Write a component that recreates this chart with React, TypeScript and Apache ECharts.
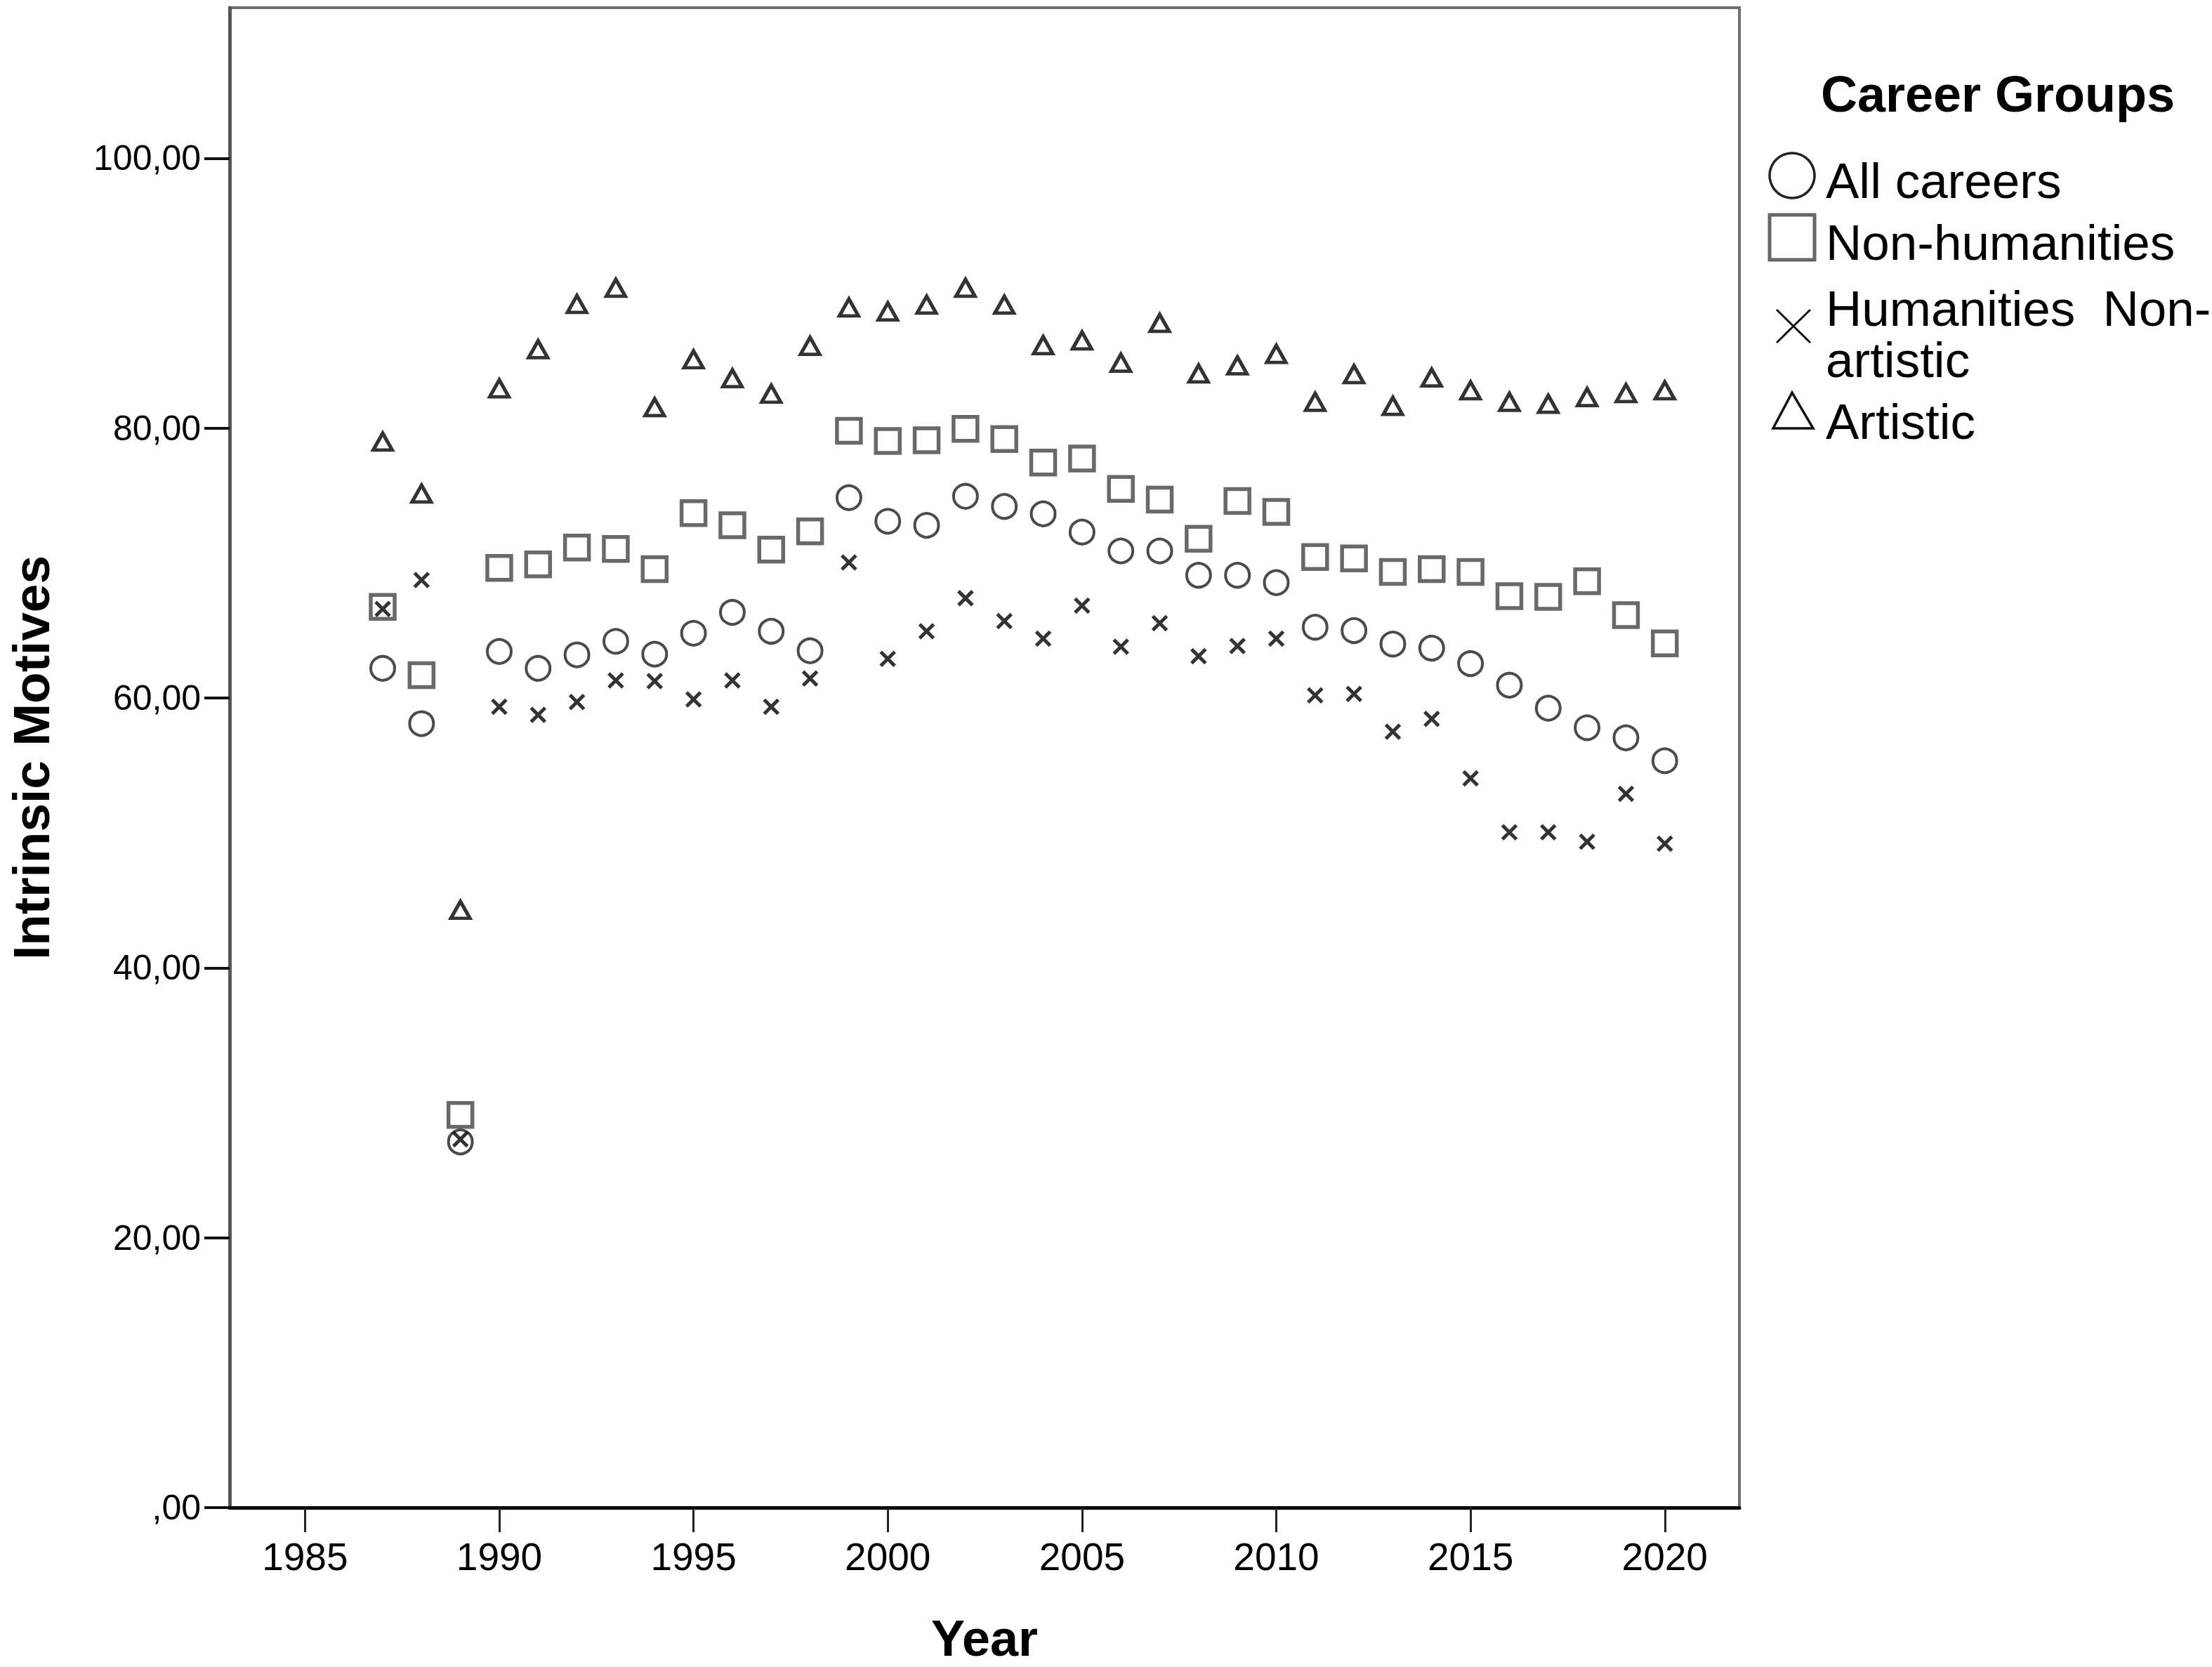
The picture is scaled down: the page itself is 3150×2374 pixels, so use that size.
import React, { useEffect, useRef } from "react";
import * as echarts from "echarts";

const years = [
  1987, 1988, 1989, 1990, 1991, 1992, 1993, 1994, 1995, 1996, 1997, 1998, 1999, 2000, 2001, 2002, 2003,
  2004, 2005, 2006, 2007, 2008, 2009, 2010, 2011, 2012, 2013, 2014, 2015, 2016, 2017, 2018, 2019, 2020,
];

const allCareers = [
  62.2, 58.1, 27.1, 63.45, 62.2, 63.2, 64.2, 63.25, 64.8, 66.35, 64.95, 63.5, 74.85, 73.1, 72.8, 74.95, 74.2,
  73.65, 72.3, 70.9, 70.9, 69.1, 69.1, 68.55, 65.25, 65.0, 64.0, 63.7, 62.55, 60.95, 59.25, 57.8, 57.05, 55.35,
];

const nonHumanities = [
  66.75, 61.7, 29.1, 69.65, 69.9, 71.15, 71.05, 69.55, 73.7, 72.8, 71.0, 72.35, 79.8, 79.05, 79.1, 79.95, 79.2,
  77.45, 77.75, 75.5, 74.7, 71.8, 74.6, 73.8, 70.45, 70.35, 69.35, 69.55, 69.35, 67.55, 67.5, 68.65, 66.15, 64.05,
];

const humanitiesNonArtistic = [
  66.6, 68.75, 27.3, 59.35, 58.75, 59.7, 61.3, 61.25, 59.9, 61.3, 59.35, 61.45, 70.05, 62.9, 64.95, 67.4, 65.7,
  64.4, 66.85, 63.8, 65.55, 63.1, 63.85, 64.4, 60.2, 60.3, 57.5, 58.45, 54.05, 50.05, 50.05, 49.35, 52.9, 49.2,
];

const artistic = [
  79.0, 75.15, 44.3, 82.95, 85.85, 89.2, 90.4, 81.55, 85.1, 83.7, 82.55, 86.1, 88.95, 88.65, 89.15, 90.4, 89.15,
  86.15, 86.5, 84.85, 87.8, 84.05, 84.65, 85.5, 81.95, 84.0, 81.65, 83.75, 82.8, 81.95, 81.8, 82.3, 82.6, 82.8,
];

const xTicks = [1985, 1990, 1995, 2000, 2005, 2010, 2015, 2020];
const yTicks = [0, 20, 40, 60, 80, 100];

const seriesNames = ["All careers", "Non-humanities", "Humanities  Non-artistic", "Artistic"];
const legendTitle = "Career Groups";

const FONT = "'Liberation Sans', Arial, sans-serif";

function pairs(vals: number[]) {
  return years.map((y, i) => [y, vals[i]]);
}

export default function App() {
  const ref = useRef<HTMLDivElement>(null);

  useEffect(() => {
    if (!ref.current) return;
    const chart = echarts.init(ref.current, null, { renderer: "svg" });

    const gridLeft = 316;
    const gridTop = 11;
    const gridW = 2161;
    const gridH = 2146;

    const option: any = {
      animation: false,
      backgroundColor: "#ffffff",
      grid: {
        left: gridLeft,
        top: gridTop,
        width: gridW,
        height: gridH,
        show: true,
        borderColor: "#707070",
        borderWidth: 4,
        backgroundColor: "#ffffff",
      },
      xAxis: {
        type: "value",
        min: 1983.06,
        max: 2021.92,
        name: "Year",
        nameLocation: "middle",
        nameGap: 150,
        nameTextStyle: { fontFamily: FONT, fontWeight: "bold", fontSize: 72, color: "#000" },
        axisLine: { show: true, onZero: false, lineStyle: { color: "#000", width: 5 } },
        axisTick: { show: true, length: 35, lineStyle: { color: "#222", width: 3 }, customValues: xTicks },
        axisLabel: {
          show: true,
          customValues: xTicks,
          margin: 42,
          fontFamily: FONT,
          fontSize: 55,
          color: "#000",
          formatter: (v: number) => String(Math.round(v)),
        },
        splitLine: { show: false },
      },
      yAxis: {
        type: "value",
        min: 0,
        max: 111.16,
        name: "Intrinsic Motives",
        nameLocation: "middle",
        nameRotate: 90,
        nameGap: 246,
        nameTextStyle: { fontFamily: FONT, fontWeight: "bold", fontSize: 73, color: "#000" },
        axisLine: { show: true, onZero: false, lineStyle: { color: "#555", width: 5 } },
        axisTick: { show: true, length: 36, lineStyle: { color: "#111", width: 4 }, customValues: yTicks },
        axisLabel: {
          show: true,
          customValues: yTicks,
          margin: 41,
          fontFamily: FONT,
          fontSize: 50,
          color: "#000",
          padding: [20, 0, 0, 0],
          formatter: (v: number) => (v === 0 ? ",00" : `${Math.round(v)},00`),
        },
        splitLine: { show: false },
      },
      series: [
        {
          name: seriesNames[0],
          type: "scatter",
          data: pairs(allCareers),
          symbol: "circle",
          symbolSize: 34,
          itemStyle: { color: "rgba(255,255,255,0)", borderColor: "#1e1e1e", borderWidth: 4 },
          z: 2,
        },
        {
          name: seriesNames[1],
          type: "scatter",
          data: pairs(nonHumanities),
          symbol: "rect",
          symbolSize: 34,
          itemStyle: { color: "rgba(255,255,255,0)", borderColor: "#444", borderWidth: 5.5 },
          z: 3,
        },
        {
          name: seriesNames[2],
          type: "scatter",
          data: pairs(humanitiesNonArtistic),
          symbol: "path://M0,0L10,10M10,0L0,10",
          symbolSize: 20,
          itemStyle: { color: "rgba(255,255,255,0)", borderColor: "#000", borderWidth: 5 },
          z: 4,
        },
        {
          name: seriesNames[3],
          type: "scatter",
          data: pairs(artistic),
          symbol: "triangle",
          symbolSize: [27, 24],
          itemStyle: { color: "rgba(255,255,255,0)", borderColor: "#000", borderWidth: 5 },
          z: 5,
        },
      ],
      graphic: [
        {
          type: "text",
          x: 2845,
          y: 134,
          style: {
            text: legendTitle,
            fontFamily: FONT,
            fontWeight: "bold",
            fontSize: 72,
            fill: "#000",
            align: "center",
            verticalAlign: "middle",
          },
        },
        {
          type: "circle",
          shape: { cx: 2552, cy: 250, r: 32 },
          style: { fill: "none", stroke: "#222", lineWidth: 3.5 },
        },
        {
          type: "text",
          x: 2600,
          y: 257,
          style: { text: seriesNames[0], fontFamily: FONT, fontSize: 71, fill: "#000", verticalAlign: "middle", align: "left" },
        },
        {
          type: "rect",
          shape: { x: 2520, y: 306, width: 64, height: 64 },
          style: { fill: "none", stroke: "#666", lineWidth: 5 },
        },
        {
          type: "text",
          x: 2600,
          y: 345,
          style: { text: seriesNames[1], fontFamily: FONT, fontSize: 71, fill: "#000", verticalAlign: "middle", align: "left" },
        },
        {
          type: "line",
          shape: { x1: 2530, y1: 441, x2: 2578, y2: 488 },
          style: { stroke: "#111", lineWidth: 3 },
        },
        {
          type: "line",
          shape: { x1: 2578, y1: 441, x2: 2530, y2: 488 },
          style: { stroke: "#111", lineWidth: 3 },
        },
        {
          type: "text",
          x: 2600,
          y: 439,
          style: { text: "Humanities  Non-", fontFamily: FONT, fontSize: 71, fill: "#000", verticalAlign: "middle", align: "left" },
        },
        {
          type: "text",
          x: 2600,
          y: 512,
          style: { text: "artistic", fontFamily: FONT, fontSize: 71, fill: "#000", verticalAlign: "middle", align: "left" },
        },
        {
          type: "polygon",
          shape: { points: [[2552, 559], [2525, 610], [2582, 610]] },
          style: { fill: "none", stroke: "#111", lineWidth: 3.5 },
        },
        {
          type: "text",
          x: 2600,
          y: 600,
          style: { text: seriesNames[3], fontFamily: FONT, fontSize: 71, fill: "#000", verticalAlign: "middle", align: "left" },
        },
      ],
    };

    chart.setOption(option);
    return () => {
      chart.dispose();
    };
  }, []);

  return (
    <div
      ref={ref}
      style={{ position: "fixed", left: 0, top: 0, width: "3150px", height: "2374px", background: "#fff" }}
    />
  );
}
